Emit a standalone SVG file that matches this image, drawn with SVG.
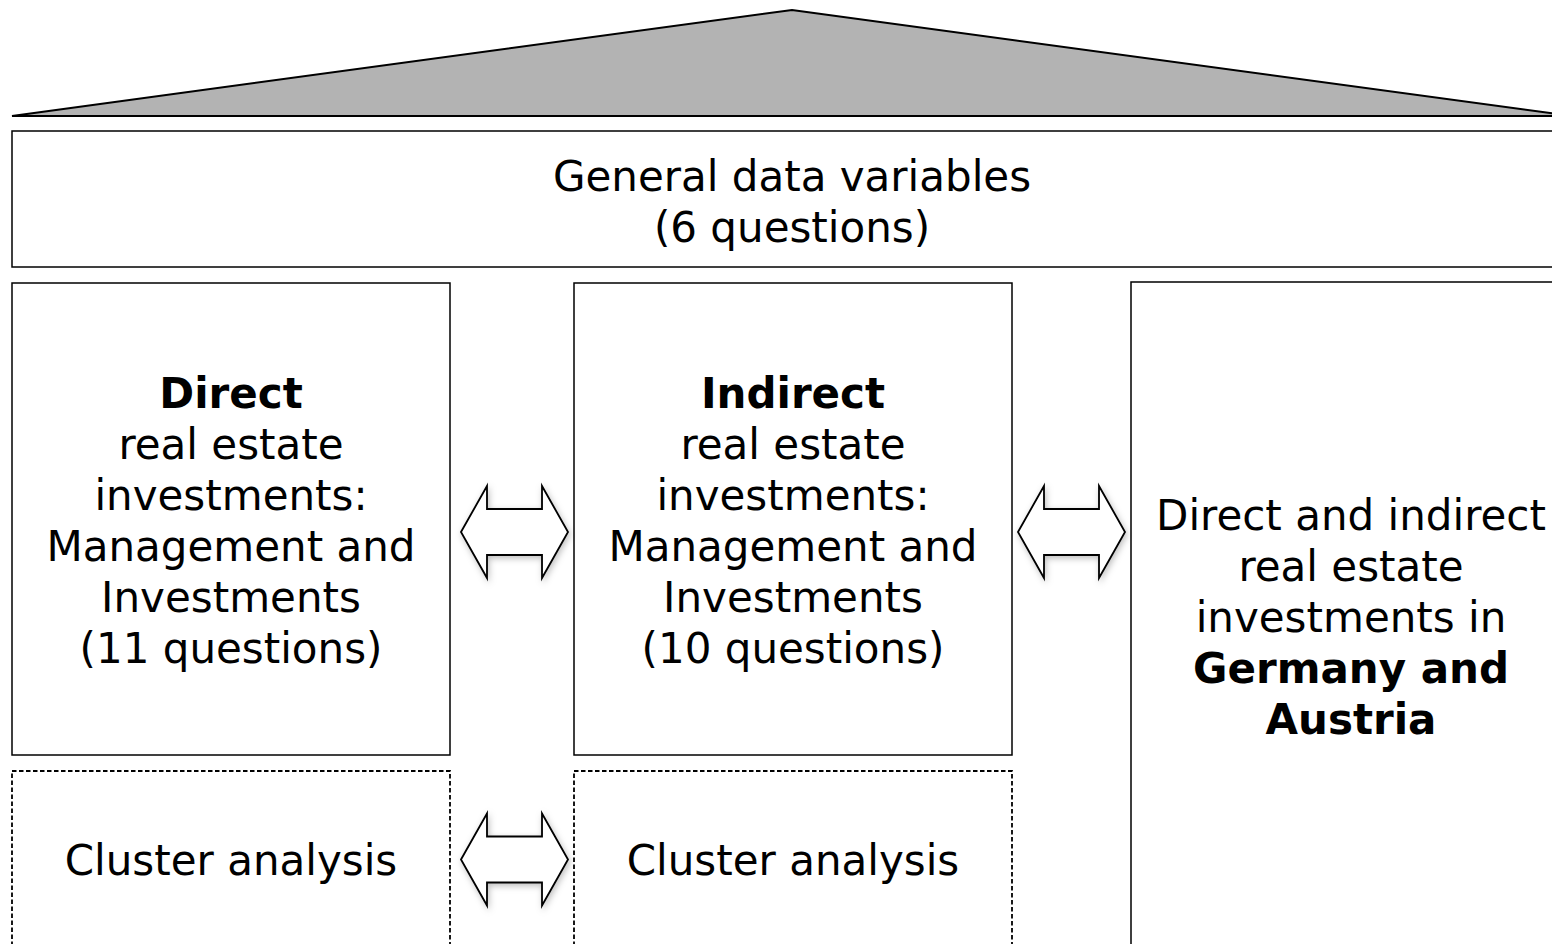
<svg xmlns="http://www.w3.org/2000/svg" xmlns:xlink="http://www.w3.org/1999/xlink" width="1552" height="944" viewBox="0 0 1552 944">
  <style>
    .box { fill: #ffffff; stroke: #000000; stroke-width: 1.5; }
    .dash { fill: #ffffff; stroke: #000000; stroke-width: 1.8; stroke-dasharray: 4.5 2.5; }
    .roof { fill: #b3b3b3; stroke: #000000; stroke-width: 2; stroke-linejoin: miter; }
    .lbl { font-family: "DejaVu Sans", Verdana, sans-serif; font-size: 42px; fill: #000000; text-anchor: middle; }
    .b { font-weight: bold; }
    .arrow { fill: #ffffff; stroke: #000000; stroke-width: 1.8; stroke-linejoin: miter; filter: url(#shadow); }
  </style>
  <defs>
    <filter id="shadow" x="-20%" y="-20%" width="150%" height="150%">
      <feDropShadow dx="1.5" dy="2.5" stdDeviation="3" flood-color="#000000" flood-opacity="0.25"/>
    </filter>
    <!-- block double arrow, centred on the origin -->
    <path id="dblArrow" d="M-53.5,0 L-27.5,-46 L-27.5,-23 L27.5,-23 L27.5,-46 L53.5,0 L27.5,46 L27.5,23 L-27.5,23 L-27.5,46 Z"/>
  </defs>

  <rect width="1552" height="944" fill="#ffffff"/>

  <g id="roof">
    <polygon class="roof" points="12,116 792,10 1572,116"/>
  </g>

  <g id="general">
    <rect class="box" x="12" y="131" width="1570" height="136"/>
    <text class="lbl" x="792" y="191">General data variables</text>
    <text class="lbl" x="792" y="242">(6 questions)</text>
  </g>

  <g id="direct">
    <rect class="box" x="12" y="283" width="438" height="472"/>
    <text class="lbl" x="231" y="408"><tspan class="b">Direct</tspan></text>
    <text class="lbl" x="231" y="459">real estate</text>
    <text class="lbl" x="231" y="510">investments:</text>
    <text class="lbl" x="231" y="561">Management and</text>
    <text class="lbl" x="231" y="612">Investments</text>
    <text class="lbl" x="231" y="663">(11 questions)</text>
  </g>

  <g id="indirect">
    <rect class="box" x="574" y="283" width="438" height="472"/>
    <text class="lbl" x="793" y="408"><tspan class="b">Indirect</tspan></text>
    <text class="lbl" x="793" y="459">real estate</text>
    <text class="lbl" x="793" y="510">investments:</text>
    <text class="lbl" x="793" y="561">Management and</text>
    <text class="lbl" x="793" y="612">Investments</text>
    <text class="lbl" x="793" y="663">(10 questions)</text>
  </g>

  <g id="germany-austria">
    <rect class="box" x="1131" y="282" width="500" height="700"/>
    <text class="lbl" x="1351" y="530">Direct and indirect</text>
    <text class="lbl" x="1351" y="581">real estate</text>
    <text class="lbl" x="1351" y="632">investments in</text>
    <text class="lbl b" x="1351" y="683">Germany and</text>
    <text class="lbl b" x="1351" y="734">Austria</text>
  </g>

  <g id="cluster-direct">
    <rect class="dash" x="12" y="771" width="438" height="220"/>
    <text class="lbl" x="231" y="875">Cluster analysis</text>
  </g>

  <g id="cluster-indirect">
    <rect class="dash" x="574" y="771" width="438" height="220"/>
    <text class="lbl" x="793" y="875">Cluster analysis</text>
  </g>

  <g id="connectors">
    <use class="arrow" xlink:href="#dblArrow" href="#dblArrow" transform="translate(514.5,532)"/>
    <use class="arrow" xlink:href="#dblArrow" href="#dblArrow" transform="translate(1071.5,532)"/>
    <use class="arrow" xlink:href="#dblArrow" href="#dblArrow" transform="translate(514.5,859.5)"/>
  </g>
</svg>
